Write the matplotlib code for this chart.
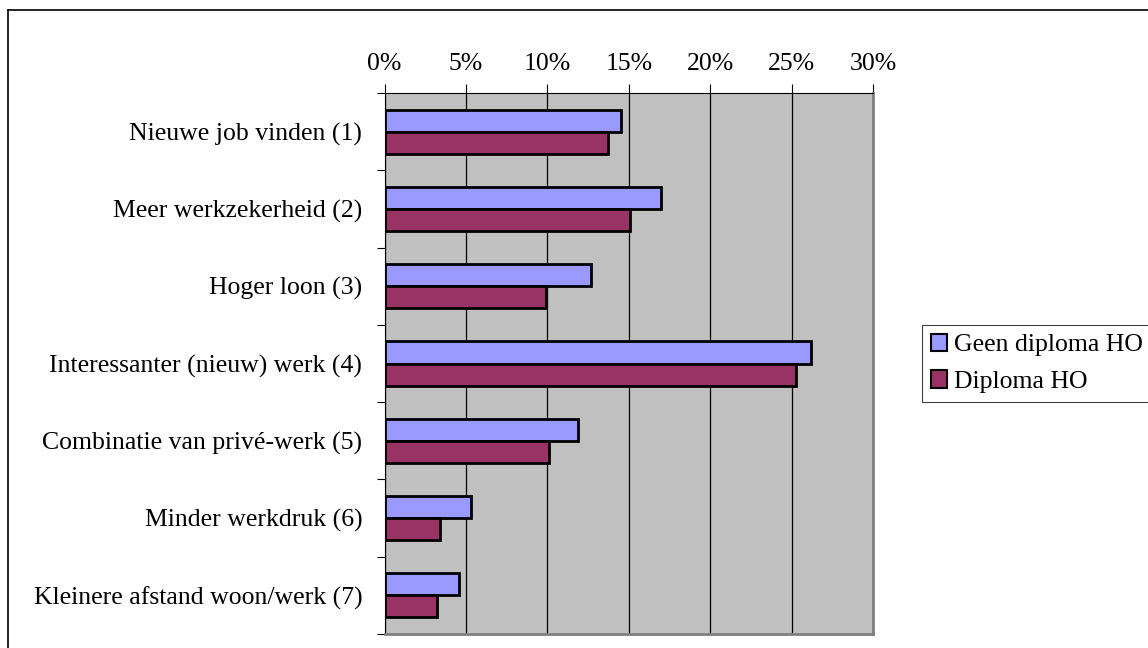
import numpy as np
import matplotlib
matplotlib.use("Agg")
import matplotlib.pyplot as plt
from matplotlib.lines import Line2D
from matplotlib.patches import Patch
from matplotlib.ticker import FuncFormatter

# Data
categories = [
    "Nieuwe job vinden (1)",
    "Meer werkzekerheid (2)",
    "Hoger loon (3)",
    "Interessanter (nieuw) werk (4)",
    "Combinatie van privé-werk (5)",
    "Minder werkdruk (6)",
    "Kleinere afstand woon/werk (7)",
]
geen_diploma = [14.5, 17.0, 12.7, 26.2, 11.9, 5.3, 4.6]
diploma = [13.7, 15.1, 9.9, 25.3, 10.1, 3.4, 3.2]
series_names = ["Geen diploma HO", "Diploma HO"]
xticks = [0, 5, 10, 15, 20, 25, 30]

plt.rcParams['font.family'] = ['Liberation Serif', 'DejaVu Serif']
plt.rcParams['font.size'] = 18.5

fig = plt.figure(figsize=(11.48, 6.48), dpi=100)
ax = fig.add_axes([384.5 / 1148, 1 - 634 / 648, (873 - 384.5) / 1148, (634 - 93) / 648])
ax.set_facecolor("#C0C0C0")

y = np.arange(len(categories))
h = 0.285
ax.barh(y - h / 2, geen_diploma, height=h, color="#9999FF", edgecolor="black", linewidth=2, zorder=3)
ax.barh(y + h / 2, diploma, height=h, color="#993366", edgecolor="black", linewidth=2, zorder=3)

ax.set_xlim(0, 30)
ax.set_ylim(len(categories) - 0.5, -0.5)

# x axis on top
ax.xaxis.tick_top()
ax.set_xticks(xticks)
ax.xaxis.set_major_formatter(FuncFormatter(lambda v, p: "%d%%" % v))
ax.tick_params(axis="x", direction="out", length=6.5, width=0.8, pad=6.5, color="black")
ax.grid(axis="x", color="black", linewidth=0.9, zorder=1)

# category labels at centres, tick marks at boundaries
ax.set_yticks(y)
ax.set_yticklabels(categories)
ax.set_yticks(np.arange(len(categories) + 1) - 0.5, minor=True)
ax.tick_params(axis="y", which="major", length=0, pad=16)
ax.tick_params(axis="y", which="minor", direction="out", length=6, width=0.8)

ax.spines["left"].set_color("black")
ax.spines["top"].set_color("black")
ax.spines["right"].set_color("#808080")
ax.spines["bottom"].set_color("#808080")
ax.spines["right"].set_linewidth(2)
ax.spines["bottom"].set_linewidth(2)

handles = [Patch(facecolor="#9999FF", edgecolor="black", linewidth=1.5),
           Patch(facecolor="#993366", edgecolor="black", linewidth=1.5)]
leg = fig.legend(handles, series_names, loc="upper left",
                 bbox_to_anchor=(921.7 / 1148, 1 - 324.7 / 648),
                 handlelength=0.65, handleheight=0.65, handletextpad=0.25,
                 borderpad=0.35, labelspacing=0.55, borderaxespad=0,
                 fancybox=False, framealpha=1, edgecolor="#404040")
leg.get_frame().set_linewidth(0.8)

# outer chart border
fig.add_artist(Line2D([8 / 1148, 8 / 1148], [1 - 10 / 648, 0], transform=fig.transFigure,
                      color="black", linewidth=1.2))
fig.add_artist(Line2D([8 / 1148, 1], [1 - 10 / 648, 1 - 10 / 648], transform=fig.transFigure,
                      color="black", linewidth=1.2))

fig.savefig("out.png", dpi=100)
